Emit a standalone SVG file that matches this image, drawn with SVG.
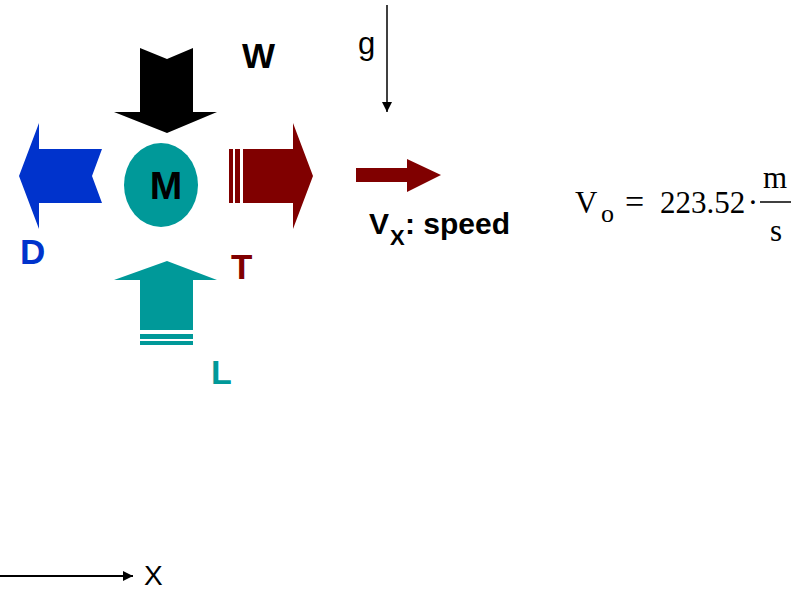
<svg xmlns="http://www.w3.org/2000/svg" width="794" height="590" viewBox="0 0 794 590">
<style>
.lb{font-family:"Liberation Sans",Arial,sans-serif;font-weight:bold}
.ls{font-family:"Liberation Sans",Arial,sans-serif}
.tm{font-family:"Liberation Serif","Times New Roman",serif;fill:#000}
</style>
<defs>
<marker id="ah" viewBox="0 0 10 10" refX="10" refY="5" markerWidth="10" markerHeight="10" markerUnits="userSpaceOnUse" orient="auto">
<path d="M0,0 L10,5 L0,10 Z" fill="#000"/>
</marker>
</defs>
<rect width="794" height="590" fill="#fff"/>
<g id="weight">
<polygon points="140,48 167,59 193,48 193,112 217,112 167,133 114,112 140,112" fill="#000"/>
<text class="lb" x="242" y="68" font-size="35" fill="#000">W</text>
</g>
<g id="drag">
<polygon points="39,123 39,149 102,149 92,176 102,203 39,203 39,229 19,176" fill="#0033cc"/>
<text class="lb" x="20" y="264" font-size="35" fill="#0033cc">D</text>
</g>
<g id="thrust">
<rect x="229" y="149" width="4" height="54" fill="#800000"/>
<rect x="235" y="149" width="5" height="54" fill="#800000"/>
<polygon points="243,149 293,149 293,123 313,176 293,229 293,203 243,203" fill="#800000"/>
<text class="lb" x="231" y="279" font-size="35" fill="#800000">T</text>
</g>
<g id="lift">
<polygon points="167,261 217,280 193,280 193,330 140,330 140,280 114,280" fill="#009999"/>
<rect x="140" y="334" width="53" height="5" fill="#009999"/>
<rect x="140" y="341" width="53" height="4" fill="#009999"/>
<text class="lb" x="211" y="384" font-size="34" fill="#009999">L</text>
</g>
<g id="mass">
<ellipse cx="161" cy="185" rx="37" ry="42" fill="#009999"/>
<text class="lb" x="166" y="199" font-size="39" fill="#000" text-anchor="middle">M</text>
</g>
<g id="gravity">
<text class="ls" x="358" y="54" font-size="31" fill="#000">g</text>
</g>
<g id="speed">
<polygon points="356,168 407,168 407,159 441,175 407,192 407,182 356,182" fill="#800000"/>
<text class="lb" x="369" y="234" font-size="30" fill="#000">V<tspan font-size="22" x="390" y="245">X</tspan><tspan x="405" y="234">: speed</tspan></text>
</g>
<g id="formula">
<text class="tm" x="575" y="213" font-size="31">V</text>
<text class="tm" x="601" y="222" font-size="26">o</text>
<text class="tm" x="625" y="213" font-size="34">=</text>
<text class="tm" x="660" y="213" font-size="31">223.52</text>
<text class="tm" x="753" y="213" font-size="31" text-anchor="middle">·</text>
<text class="tm" x="775" y="188" font-size="31" text-anchor="middle">m</text>
<line x1="760" y1="202" x2="791" y2="202" stroke="#000" stroke-width="1.5"/>
<text class="tm" x="776" y="241" font-size="31" text-anchor="middle">s</text>
</g>
<g id="xaxis">
<text class="ls" x="144" y="585" font-size="28" fill="#000">X</text>
</g>
<g id="connectors">
<line x1="387" y1="5" x2="387" y2="112" stroke="#000" stroke-width="1.5" marker-end="url(#ah)"/>
<line x1="0" y1="576" x2="133" y2="576" stroke="#000" stroke-width="2" marker-end="url(#ah)"/>
</g>
</svg>
